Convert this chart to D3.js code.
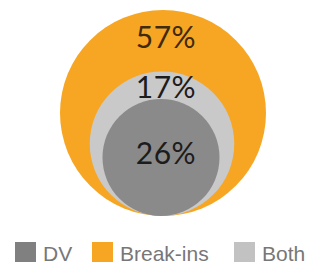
<!DOCTYPE html>
<html>
<head>
<meta charset="utf-8">
<script src="https://cdn.jsdelivr.net/npm/d3@7"></script>
<style>
  html, body { margin: 0; padding: 0; background: #fff; }
  svg { display: block; }
</style>
</head>
<body>
<svg id="chart" width="309" height="267"></svg>
<script>
// ---- data ----
const categories = ["Break-ins", "Both", "DV"];          // outer -> inner
const shares     = [57, 17, 26];                          // percentages
const labels     = ["57%", "17%", "26%"];
const legendKeys = ["DV", "Break-ins", "Both"];
const colors     = { "DV": "#8a8a8a", "Break-ins": "#f6a623", "Both": "#c9c9c9" };
const legendColors = { "DV": "#808080", "Break-ins": "#f6a623", "Both": "#c2c2c2" };

// cumulative sizes for nested circles (outer contains inner)
const cumulative = shares.map((_, i) => d3.sum(shares.slice(i)));   // [100, 43, 26]

const svg = d3.select("#chart");
const cx = 163, bottomY = 216;
const r = d3.scalePow().exponent(0.42).domain([0, 100]).range([0, 103]);

const labelOffset = [38, 27, 65];   // baseline offset from circle top
const nodes = categories.map((c, i) => {
  const rad = r(cumulative[i]);
  const cy = bottomY - rad;
  return { cat: c, r: rad, cx: cx - (i === 0 ? 0 : i), cy: cy, label: labels[i],
           ly: cy - rad + labelOffset[i] };
});

svg.append("g").selectAll("circle").data(nodes).join("circle")
  .attr("cx", d => d.cx).attr("cy", d => d.cy).attr("r", d => d.r)
  .attr("fill", d => colors[d.cat]);

svg.append("g").selectAll("text").data(nodes).join("text")
  .attr("x", 166).attr("y", d => d.ly)
  .attr("text-anchor", "middle")
  .attr("font-family", "Lato, 'Open Sans', sans-serif")
  .attr("font-weight", 400)
  .attr("font-size", 30)
  .attr("letter-spacing", 0.5)
  .attr("fill", (d, i) => i === 0 ? "#3f2a0c" : "#1c1c1c")
  .text(d => d.label);

// legend
const legendX = [15, 92, 234];
const lg = svg.append("g").selectAll("g").data(legendKeys).join("g")
  .attr("transform", (d, i) => `translate(${legendX[i]},242)`);
lg.append("rect").attr("width", 21).attr("height", 20)
  .attr("fill", d => legendColors[d]);
lg.append("text").attr("x", 28).attr("y", 19)
  .attr("font-family", "'Liberation Sans', Arial, sans-serif")
  .attr("font-size", 21)
  .attr("fill", "#777")
  .text(d => d);
</script>
</body>
</html>
